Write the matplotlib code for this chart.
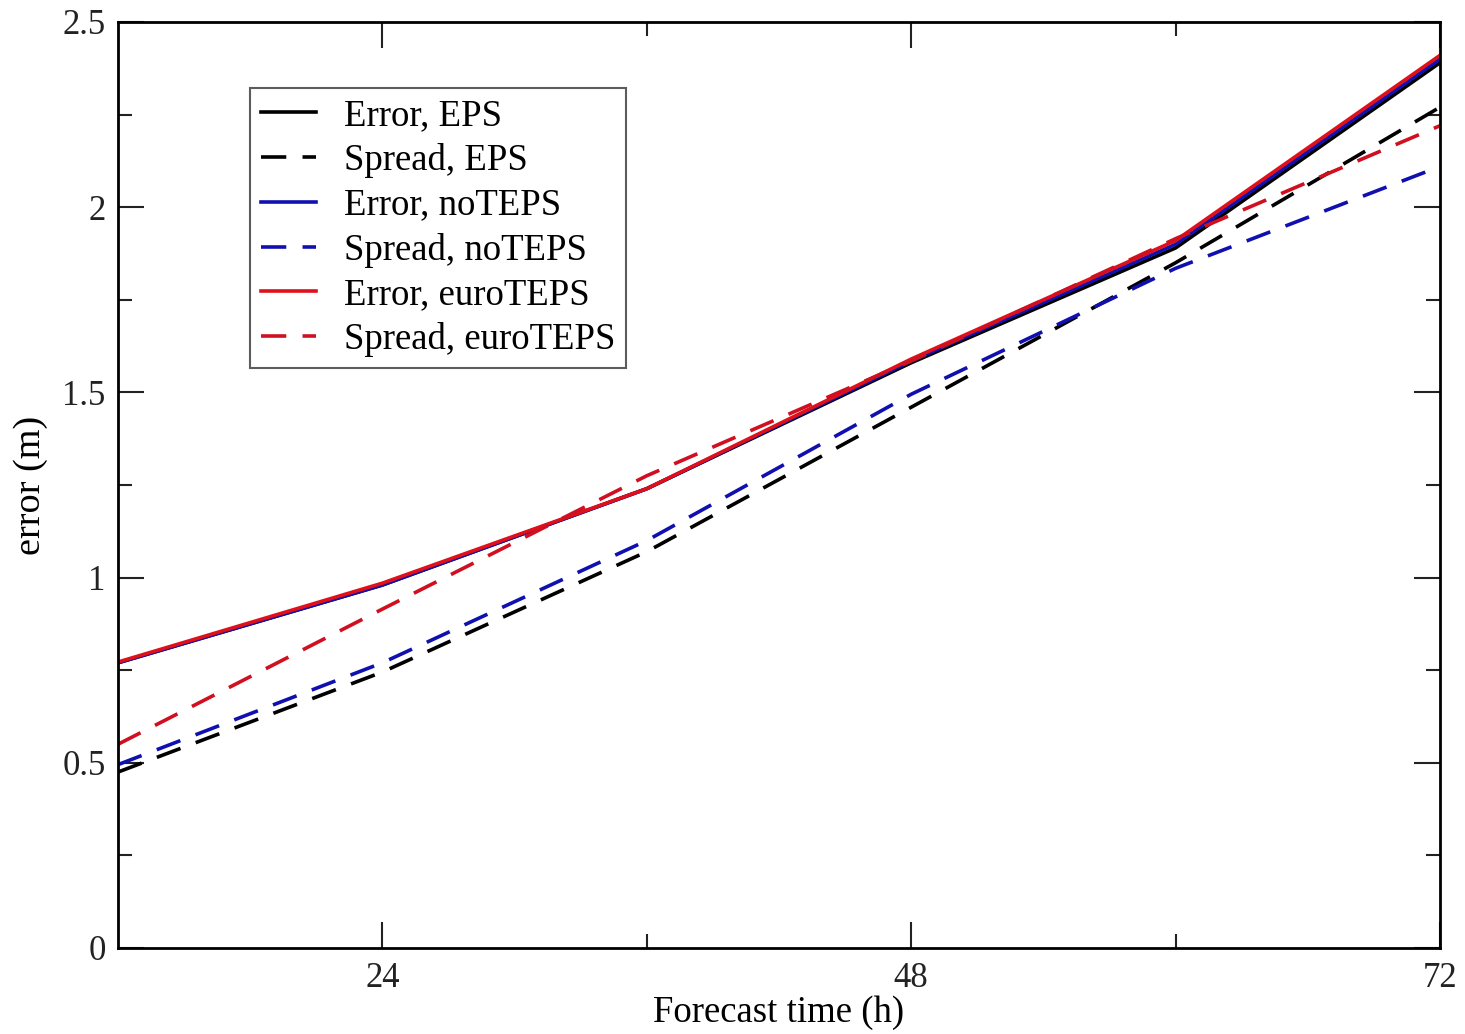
import matplotlib
matplotlib.use("Agg")
import matplotlib.pyplot as plt
from matplotlib.ticker import MultipleLocator, FixedLocator, FuncFormatter

plt.rcParams['font.family'] = ['Liberation Serif', 'DejaVu Serif']

hours = [12, 24, 36, 48, 60, 72]
error_eps = [0.77, 0.98, 1.24, 1.58, 1.89, 2.39]
spread_eps = [0.475, 0.745, 1.07, 1.46, 1.85, 2.27]
error_noteps = [0.77, 0.98, 1.24, 1.585, 1.90, 2.40]
spread_noteps = [0.495, 0.77, 1.10, 1.495, 1.835, 2.11]
error_euroteps = [0.772, 0.985, 1.24, 1.59, 1.91, 2.41]
spread_euroteps = [0.55, 0.915, 1.275, 1.585, 1.915, 2.22]

fig = plt.figure(figsize=(14.65, 10.34), dpi=100)
ax = fig.add_axes([118/1465, 1 - 948/1034, 1322/1465, 926/1034])

lw = 2.6
dash = (0, (7, 4.5))
ax.plot(hours, error_eps, color='black', lw=lw, label='Error, EPS')
ax.plot(hours, spread_eps, color='black', lw=lw, ls=dash, label='Spread, EPS')
ax.plot(hours, error_noteps, color='#1010b0', lw=lw, label='Error, noTEPS')
ax.plot(hours, spread_noteps, color='#1010b0', lw=lw, ls=dash, label='Spread, noTEPS')
ax.plot(hours, error_euroteps, color='#e0101a', lw=lw, label='Error, euroTEPS')
ax.plot(hours, spread_euroteps, color='#d01020', lw=lw, ls=dash, label='Spread, euroTEPS')

ax.set_xlim(12, 72)
ax.set_ylim(0, 2.5)
ax.xaxis.set_major_locator(FixedLocator([24, 48, 72]))
ax.xaxis.set_minor_locator(FixedLocator([36, 60]))
ax.yaxis.set_major_locator(MultipleLocator(0.5))
ax.yaxis.set_minor_locator(MultipleLocator(0.25))
ax.yaxis.set_major_formatter(FuncFormatter(lambda v, p: '%g' % v))
ax.tick_params(which='both', direction='in', top=True, right=True, labelsize=25, width=1.5, colors='#222222')
ax.tick_params(which='major', length=19)
ax.tick_params(which='minor', length=10)
ax.tick_params(axis='y', which='major', pad=9)
ax.tick_params(axis='x', which='major', pad=10)
for s in ax.spines.values():
    s.set_linewidth(2)

ax.set_xlabel('Forecast time (h)', fontsize=26.5, labelpad=0)
ax.set_ylabel('error (m)', fontsize=27.5, labelpad=10)

leg = ax.legend(loc='upper left', bbox_to_anchor=(0.0998, 0.929), borderaxespad=0, fontsize=26.5,
                frameon=True, fancybox=False, edgecolor='#333333', handlelength=1.5,
                borderpad=0.3, labelspacing=0.27, handletextpad=0.75)
leg.get_frame().set_linewidth(1.5)

fig.savefig('out.png', dpi=100)
